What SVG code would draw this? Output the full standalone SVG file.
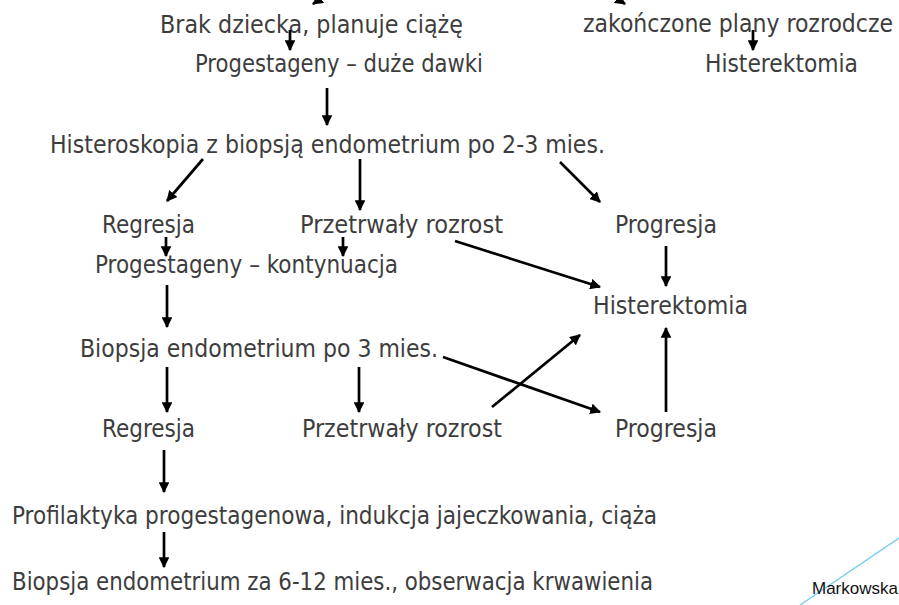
<svg xmlns="http://www.w3.org/2000/svg" width="899" height="605" viewBox="0 0 899 605">
  <defs>
    <marker id="head" viewBox="0 0 10 10" refX="9" refY="5" markerWidth="4" markerHeight="4" orient="auto" markerUnits="strokeWidth">
      <path d="M0,0 L10,5 L0,10 Z" fill="#000"/>
    </marker>
    <style>
      .t { font-family: "DejaVu Sans Condensed", "DejaVu Sans", "Liberation Sans", sans-serif; font-stretch: condensed; font-size: 24px; fill: #3d3d3d; }
      .sig { font-family: "Liberation Sans", "DejaVu Sans", sans-serif; font-size: 17px; fill: #111; }
      .c line { stroke: #000; stroke-width: 2.7; marker-end: url(#head); }
    </style>
  </defs>
  <rect width="899" height="605" fill="#fff"/>

  <!-- decorative accent line, lower right -->
  <line x1="800" y1="605" x2="899" y2="538" stroke="#7fcdf0" stroke-width="1.5"/>

  <g id="n-brak"><text class="t" x="160" y="33" textLength="303" lengthAdjust="spacingAndGlyphs">Brak dziecka, planuje ciążę</text></g>
  <g id="n-plany"><text class="t" x="583" y="32" textLength="310" lengthAdjust="spacingAndGlyphs">zakończone plany rozrodcze</text></g>
  <g id="n-prog-duze"><text class="t" x="195" y="72" textLength="288" lengthAdjust="spacingAndGlyphs">Progestageny – duże dawki</text></g>
  <g id="n-hist-top"><text class="t" x="705" y="72" textLength="153" lengthAdjust="spacingAndGlyphs">Histerektomia</text></g>
  <g id="n-histeroskopia"><text class="t" x="50" y="153" textLength="555" lengthAdjust="spacingAndGlyphs">Histeroskopia z biopsją endometrium po 2-3 mies.</text></g>
  <g id="n-regresja1"><text class="t" x="102" y="233" textLength="93" lengthAdjust="spacingAndGlyphs">Regresja</text></g>
  <g id="n-przetrwaly1"><text class="t" x="300" y="233" textLength="203" lengthAdjust="spacingAndGlyphs">Przetrwały rozrost</text></g>
  <g id="n-progresja1"><text class="t" x="615" y="233" textLength="102" lengthAdjust="spacingAndGlyphs">Progresja</text></g>
  <g id="n-prog-kont"><text class="t" x="95" y="273" textLength="303" lengthAdjust="spacingAndGlyphs">Progestageny – kontynuacja</text></g>
  <g id="n-hist-mid"><text class="t" x="593" y="314" textLength="155" lengthAdjust="spacingAndGlyphs">Histerektomia</text></g>
  <g id="n-biopsja3"><text class="t" x="80" y="357" textLength="358" lengthAdjust="spacingAndGlyphs">Biopsja endometrium po 3 mies.</text></g>
  <g id="n-regresja2"><text class="t" x="102" y="437" textLength="93" lengthAdjust="spacingAndGlyphs">Regresja</text></g>
  <g id="n-przetrwaly2"><text class="t" x="302" y="437" textLength="200" lengthAdjust="spacingAndGlyphs">Przetrwały rozrost</text></g>
  <g id="n-progresja2"><text class="t" x="615" y="437" textLength="102" lengthAdjust="spacingAndGlyphs">Progresja</text></g>
  <g id="n-profilaktyka"><text class="t" x="12" y="524" textLength="645" lengthAdjust="spacingAndGlyphs">Profilaktyka progestagenowa, indukcja jajeczkowania, ciąża</text></g>
  <g id="n-biopsja-obs"><text class="t" x="12" y="590" textLength="641" lengthAdjust="spacingAndGlyphs">Biopsja endometrium za 6-12 mies., obserwacja krwawienia</text></g>
  <g id="n-author"><text class="sig" x="812" y="594">Markowska</text></g>

  <g id="connectors" class="c">
    <line x1="336" y1="-12" x2="313" y2="4"/>
    <line x1="602" y1="-12" x2="625" y2="4"/>
    <line x1="290" y1="30" x2="290" y2="50"/>
    <line x1="753" y1="30" x2="753" y2="50"/>
    <line x1="327" y1="88" x2="327" y2="125"/>
    <line x1="203" y1="159" x2="167" y2="201"/>
    <line x1="360" y1="159" x2="360" y2="210"/>
    <line x1="560" y1="162" x2="600" y2="202"/>
    <line x1="166" y1="237" x2="166" y2="256"/>
    <line x1="343" y1="237" x2="343" y2="256"/>
    <line x1="455" y1="241" x2="600" y2="287"/>
    <line x1="666" y1="246" x2="666" y2="286"/>
    <line x1="167" y1="285" x2="167" y2="327"/>
    <line x1="443" y1="357" x2="600" y2="412"/>
    <line x1="492" y1="407" x2="580" y2="335"/>
    <line x1="666" y1="412" x2="666" y2="328"/>
    <line x1="167" y1="367" x2="167" y2="412"/>
    <line x1="359" y1="367" x2="359" y2="412"/>
    <line x1="164" y1="450" x2="164" y2="492"/>
    <line x1="164" y1="532" x2="164" y2="567"/>
  </g>
</svg>
